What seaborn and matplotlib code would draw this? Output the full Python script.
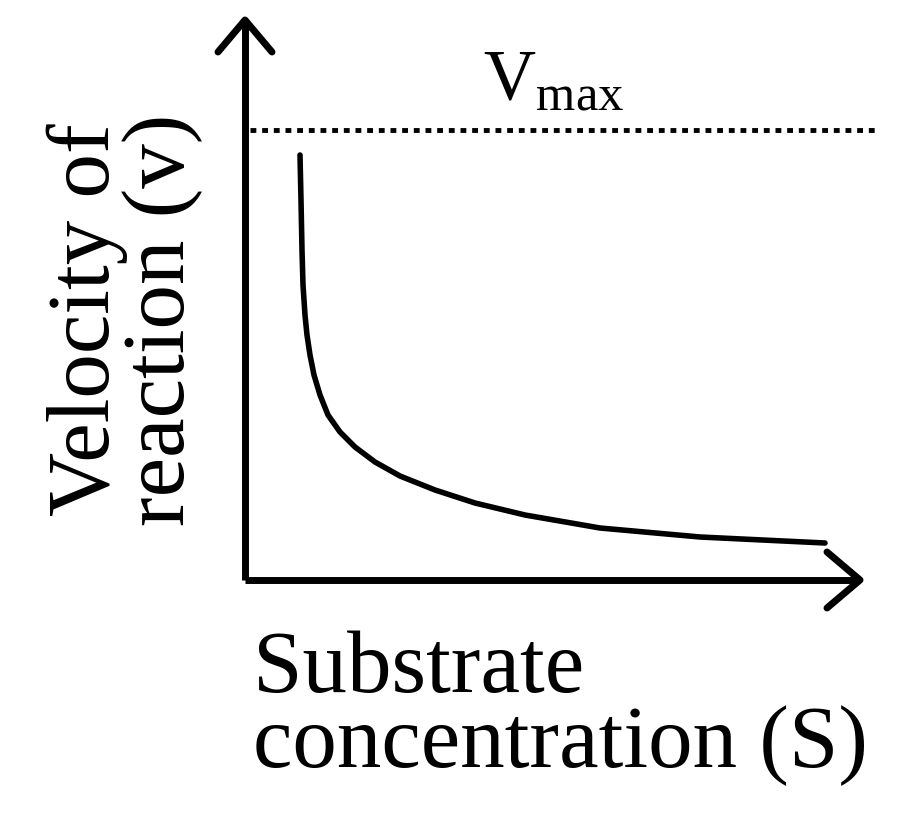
import matplotlib
matplotlib.use('Agg')
import matplotlib.pyplot as plt
import seaborn as sns
import pandas as pd

sns.set_theme(style='white')
plt.rcParams['font.family'] = ['Liberation Serif', 'DejaVu Serif']

# curve values (origin at the axes corner)
substrate = [55, 56, 57, 58, 60, 62, 65, 69, 75, 83, 95, 110, 130, 155, 190, 230, 280, 355, 455, 580]
velocity = [425, 380, 330, 295, 265, 245, 225, 205, 185, 165, 148, 133, 118, 104, 90, 77, 65, 52, 43, 37]
vmax = 450

df = pd.DataFrame({'S': substrate, 'v': velocity})

fig = plt.figure(figsize=(9, 8.26), dpi=100)
ax = fig.add_axes([0, 0, 1, 1])
ax.set_xlim(-245, 655)
ax.set_ylim(-246, 580)
ax.axis('off')

sns.lineplot(data=df, x='S', y='v', color='black', linewidth=4, ax=ax)
ax.plot([5, 635], [vmax, vmax], color='black', linestyle=(0, (1.2, 1.2)), linewidth=3.5)

# axes with arrow heads
ax.plot([0, 0], [0, 558], color='black', linewidth=5, solid_capstyle='butt')
ax.plot([0, 612], [0, 0], color='black', linewidth=5, solid_capstyle='butt')
ax.plot([-27, 0, 27], [528, 560, 528], color='black', linewidth=5)
ax.plot([582, 615, 582], [28, 0, -28], color='black', linewidth=5)

ax.text(238, 480, r'V$_{\mathregular{max}}$', fontsize=52, ha='left', va='baseline', color='black')
ax.text(-120, 260, 'Velocity of\nreaction (v)', fontsize=64, rotation=90,
        ha='center', va='center', linespacing=0.9, color='black')
ax.text(8, -50, 'Substrate\nconcentration (S)', fontsize=64, ha='left', va='top',
        linespacing=0.9, color='black')

fig.savefig('out.png', dpi=100)
